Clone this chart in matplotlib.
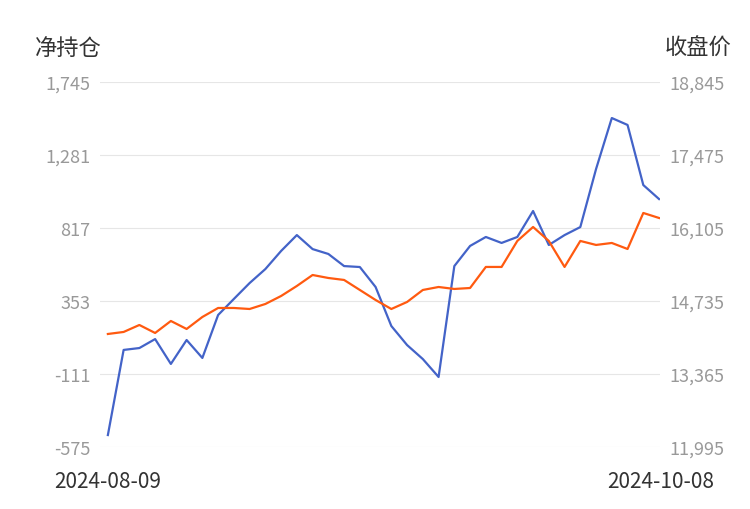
import matplotlib
matplotlib.use("Agg")
import matplotlib.pyplot as plt

plt.rcParams['font.family'] = ['Noto Sans CJK SC', 'DejaVu Sans']

dates = ["2024-08-09", "2024-10-08"]
net_pos = [-499, 42, 54, 111, -47, 105, -9, 264, 366, 467, 556, 671, 772, 683, 652, 575, 569, 442,
           194, 73, -16, -130, 575, 703, 760, 722, 760, 925, 709, 772, 823, 1192, 1516, 1472, 1090, 1001]
close = [14116, 14154, 14285, 14135, 14360, 14210, 14435, 14604, 14604, 14585, 14679, 14829, 15017,
         15223, 15167, 15130, 14942, 14754, 14585, 14717, 14942, 14998, 14961, 14979, 15374, 15374,
         15862, 16124, 15862, 15374, 15862, 15787, 15824, 15711, 16387, 16293]
left_ticks = [-575, -111, 353, 817, 1281, 1745]
right_ticks = [11995, 13365, 14735, 16105, 17475, 18845]

fig = plt.figure(figsize=(7.5, 5.1), dpi=100)
ax = fig.add_axes([100/750, 1-448/510, 560/750, 365/510])
ax2 = ax.twinx()
x = list(range(len(net_pos)))
ax.plot(x, net_pos, color='#4363c8', lw=1.6, zorder=3)
ax2.plot(x, close, color='#ff5a10', lw=1.6, zorder=3)
ax.set_xlim(-0.5, 35.06)
ax.set_ylim(left_ticks[0], left_ticks[-1])
ax2.set_ylim(right_ticks[0], right_ticks[-1])
ax.set_yticks(left_ticks)
ax.set_yticklabels([f"{v:,}" for v in left_ticks])
ax2.set_yticks(right_ticks)
ax2.set_yticklabels([f"{v:,}" for v in right_ticks])
ax.grid(axis='y', color='#e6e6e6', lw=0.8)
ax.set_xticks([])
for a in (ax, ax2):
    for s in a.spines.values():
        s.set_visible(False)
    a.tick_params(axis='y', length=0, labelsize=13, labelcolor='#999999', pad=7)
fig.text(35/750, 1-48/510, "净持仓", fontsize=16, color='#333333', va='center', ha='left')
fig.text(731/750, 1-48/510, "收盘价", fontsize=16, color='#333333', va='center', ha='right')
fig.text(108/750, 1-482/510, dates[0], fontsize=15, color='#333333', va='center', ha='center')
fig.text(714/750, 1-482/510, dates[1], fontsize=15, color='#333333', va='center', ha='right')
fig.savefig("out.png", dpi=100)
